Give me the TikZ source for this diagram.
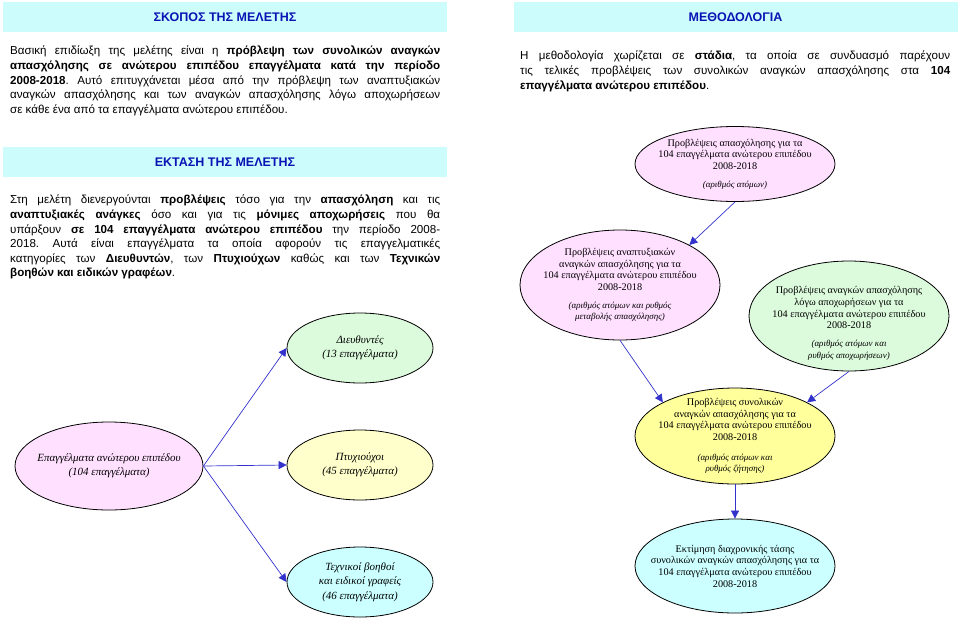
\documentclass[tikz,border=0pt]{standalone}
\usepackage{fontspec}
\setmainfont{Liberation Serif}
\newfontfamily\arial{Liberation Sans}
\usepackage{xcolor}
\usetikzlibrary{shapes.geometric,arrows.meta}

\definecolor{hdrfill}{HTML}{CCFCFC}
\definecolor{hdrtext}{HTML}{0A14B4}
\definecolor{pinkf}{HTML}{FFE0FF}
\definecolor{greenf}{HTML}{DCFADC}
\definecolor{yellowf}{HTML}{FFFF9C}
\definecolor{paleyel}{HTML}{FFFFCC}
\definecolor{cyanf}{HTML}{CCFFFF}
\definecolor{arrblue}{HTML}{3333CC}
\newcommand{\smallit}{\itshape\fontsize{9}{10.5}\selectfont}

\begin{document}
\begin{tikzpicture}[x=1pt, y=-1pt,
  hdr/.style={fill=hdrfill, inner sep=0, minimum width=444, minimum height=30,
    font=\arial\fontsize{12.5}{14}\selectfont\bfseries, text=hdrtext},
  para/.style={anchor=north west, inner sep=0, text width=430, align=justify,
    font=\arial\fontsize{11.6}{14.6}\selectfont},
  ell/.style={ellipse, draw=black, line width=0.8pt, inner xsep=-40pt, inner ysep=-30pt,
    align=center, font=\fontsize{10.2}{11.7}\selectfont},
  lell/.style={ellipse, draw=black, line width=0.8pt, inner xsep=-40pt, inner ysep=-30pt,
    align=center, font=\itshape\fontsize{11}{14.5}\selectfont},
  arr/.style={draw=arrblue, line width=0.7pt, -{Triangle[length=8pt,width=8pt]}, arrblue}]
\useasboundingbox (0,0) rectangle (960,621);
\hyphenpenalty=10000 \tolerance=9999 \frenchspacing

% headers
\node[hdr] (aim) at (225,17) {ΣΚΟΠΟΣ ΤΗΣ ΜΕΛΕΤΗΣ};
\node[hdr] (meth) at (735.5,17) {ΜΕΘΟΔΟΛΟΓΙΑ};
\node[hdr] (scope) at (225,162) {ΕΚΤΑΣΗ ΤΗΣ ΜΕΛΕΤΗΣ};

% text blocks
\node[para] (aimtxt) at (10,46) {Βασική επιδίωξη της μελέτης είναι η \textbf{πρόβλεψη των συνολικών αναγκών}\linebreak
\textbf{απασχόλησης σε ανώτερου επιπέδου επαγγέλματα κατά την περίοδο}\linebreak
\textbf{2008-2018}. Αυτό επιτυγχάνεται μέσα από την πρόβλεψη των αναπτυξιακών\linebreak
αναγκών απασχόλησης και των αναγκών απασχόλησης λόγω αποχωρήσεων\linebreak
σε κάθε ένα από τα επαγγέλματα ανώτερου επιπέδου.};
\node[para] (methtxt) at (520,51) {Η μεθοδολογία χωρίζεται σε \textbf{στάδια}, τα οποία σε συνδυασμό παρέχουν\linebreak
τις τελικές προβλέψεις των συνολικών αναγκών απασχόλησης στα \textbf{104}\linebreak
\textbf{επαγγέλματα ανώτερου επιπέδου}.};
\node[para] (scopetxt) at (10,195) {Στη μελέτη διενεργούνται \textbf{προβλέψεις} τόσο για την \textbf{απασχόληση} και τις\linebreak
\textbf{αναπτυξιακές ανάγκες} όσο και για τις \textbf{μόνιμες αποχωρήσεις} που θα\linebreak
υπάρξουν \textbf{σε 104 επαγγέλματα ανώτερου επιπέδου} την περίοδο 2008-\linebreak
2018. Αυτά είναι επαγγέλματα τα οποία αφορούν τις επαγγελματικές\linebreak
κατηγορίες των \textbf{Διευθυντών}, των \textbf{Πτυχιούχων} καθώς και των \textbf{Τεχνικών}\linebreak
\textbf{βοηθών και ειδικών γραφέων}.};

% left tree
\node[lell, fill=pinkf, minimum width=188, minimum height=88] (all) at (109,466)
  {Επαγγέλματα ανώτερου επιπέδου\\(104 επαγγέλματα)};
\node[lell, fill=greenf, minimum width=146, minimum height=70] (dir) at (360,348)
  {Διευθυντές\\(13 επαγγέλματα)};
\node[lell, fill=paleyel, minimum width=146, minimum height=70] (grad) at (360,465)
  {Πτυχιούχοι\\(45 επαγγέλματα)};
\node[lell, fill=cyanf, minimum width=146, minimum height=70] (tech) at (360,582)
  {Τεχνικοί βοηθοί\\και ειδικοί γραφείς\\(46 επαγγέλματα)};

\draw[arr] (all.east) -- (dir.west);
\draw[arr] (all.east) -- (grad.west);
\draw[arr] (all.east) -- (tech.west);

% methodology stages
\node[ell, fill=pinkf, minimum width=200, minimum height=75] (emp) at (735,164)
  {Προβλέψεις απασχόλησης για τα\\104 επαγγέλματα ανώτερου επιπέδου\\2008-2018\\[6pt]
   \smallit (αριθμός ατόμων)};
\node[ell, fill=pinkf, minimum width=200, minimum height=110] (dev) at (620,285)
  {Προβλέψεις αναπτυξιακών\\αναγκών απασχόλησης για τα\\104 επαγγέλματα ανώτερου επιπέδου\\2008-2018\\[6pt]
   \smallit (αριθμός ατόμων και ρυθμός\\ \smallit μεταβολής απασχόλησης)};
\node[ell, fill=greenf, minimum width=200, minimum height=110] (ret) at (849,316)
  {\mbox{}\\[10pt]Προβλέψεις αναγκών απασχόλησης\\λόγω αποχωρήσεων για τα\\104 επαγγέλματα ανώτερου επιπέδου\\2008-2018\\[6pt]
   \smallit (αριθμός ατόμων και\\ \smallit ρυθμός αποχωρήσεων)};
\node[ell, fill=yellowf, minimum width=200, minimum height=96] (tot) at (735,436)
  {Προβλέψεις συνολικών\\αναγκών απασχόλησης για τα\\104 επαγγέλματα ανώτερου επιπέδου\\2008-2018\\[8pt]
   \smallit (αριθμός ατόμων και\\ \smallit ρυθμός ζήτησης)};
\node[ell, fill=cyanf, minimum width=200, minimum height=94] (trend) at (735,566)
  {Εκτίμηση διαχρονικής τάσης\\συνολικών αναγκών απασχόλησης για τα\\104 επαγγέλματα ανώτερου επιπέδου\\2008-2018};

\draw[arr] (emp.south) -- (dev.30);
\draw[arr] (dev.south) -- (tot.155);
\draw[arr] (ret.south) -- (tot.25);
\draw[arr] (tot.south) -- (trend.north);
\end{tikzpicture}
\end{document}
